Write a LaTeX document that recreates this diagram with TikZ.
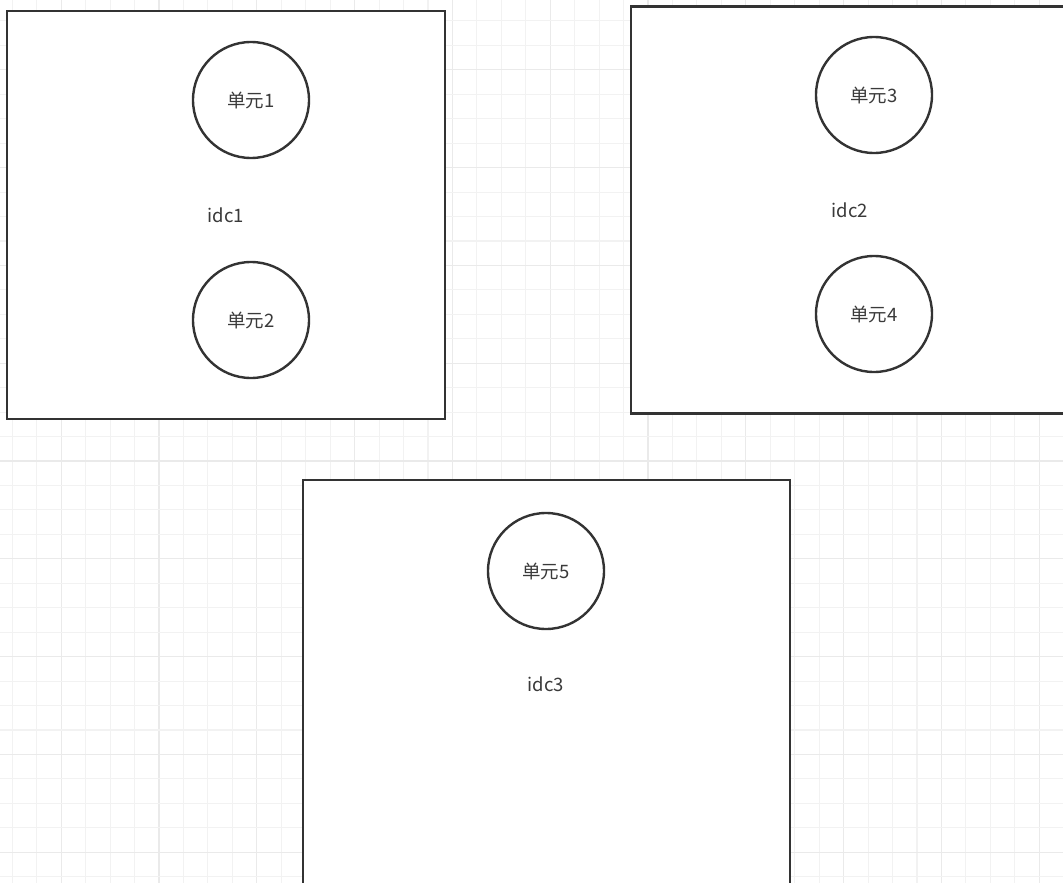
\documentclass[tikz,border=0pt]{standalone}
\usepackage{fontspec}
\setmainfont{Noto Sans CJK SC}
\definecolor{ink}{HTML}{333333}
\definecolor{txt}{HTML}{3A3A3A}
\definecolor{gridminor}{HTML}{F2F2F2}
\definecolor{gridmajor}{HTML}{EAEAEA}
\tikzset{
  idcbox/.style={draw=ink, line width=2.4pt, fill=white, rectangle, inner sep=0pt, outer sep=0pt, anchor=north west},
  unit/.style={draw=ink, line width=2.4pt, fill=white, circle, minimum size=116pt, inner sep=0pt, text=txt, font=\fontsize{18.5}{22}\selectfont},
  lbl/.style={text=txt, inner sep=0pt, font=\fontsize{18.5}{22}\selectfont}
}
\begin{document}
\begin{tikzpicture}[x=1pt,y=-1pt]
\useasboundingbox (0,0) rectangle (1063,883);
\clip (0,0) rectangle (1063,883);
\fill[white] (0,0) rectangle (1063,883);
% grid
\foreach \k in {0,...,44} {
  \pgfmathsetmacro{\gx}{12.3+24.45*\k}
  \pgfmathtruncatemacro{\m}{mod(\k,4)}
  \ifnum\m=2
    \draw[gridmajor, line width=1.1pt] (\gx,0) -- (\gx,883);
  \else
    \draw[gridminor, line width=1.1pt] (\gx,0) -- (\gx,883);
  \fi
}
\foreach \k in {0,...,36} {
  \pgfmathsetmacro{\gy}{20.9+24.45*\k}
  \pgfmathtruncatemacro{\m}{mod(\k,4)}
  \ifnum\m=2
    \draw[gridmajor, line width=1.1pt] (0,\gy) -- (1063,\gy);
  \else
    \draw[gridminor, line width=1.1pt] (0,\gy) -- (1063,\gy);
  \fi
}
% boxes
\node[idcbox, minimum width=438pt, minimum height=408pt] (box1) at (7,11) {};
\node[idcbox, minimum width=460pt, minimum height=407pt] (box2) at (631,6.5) {};
\node[idcbox, minimum width=487pt, minimum height=460pt] (box3) at (303,480) {};
% units
\node[unit] (u1) at (251,100) {单元1};
\node[unit] (u2) at (251,320) {单元2};
\node[unit] (u3) at (874,95) {单元3};
\node[unit] (u4) at (874,314) {单元4};
\node[unit] (u5) at (546,571) {单元5};
% labels
\node[lbl] (l1) at (226,215) {idc1};
\node[lbl] (l2) at (850,210) {idc2};
\node[lbl] (l3) at (546,684) {idc3};
\end{tikzpicture}
\end{document}
